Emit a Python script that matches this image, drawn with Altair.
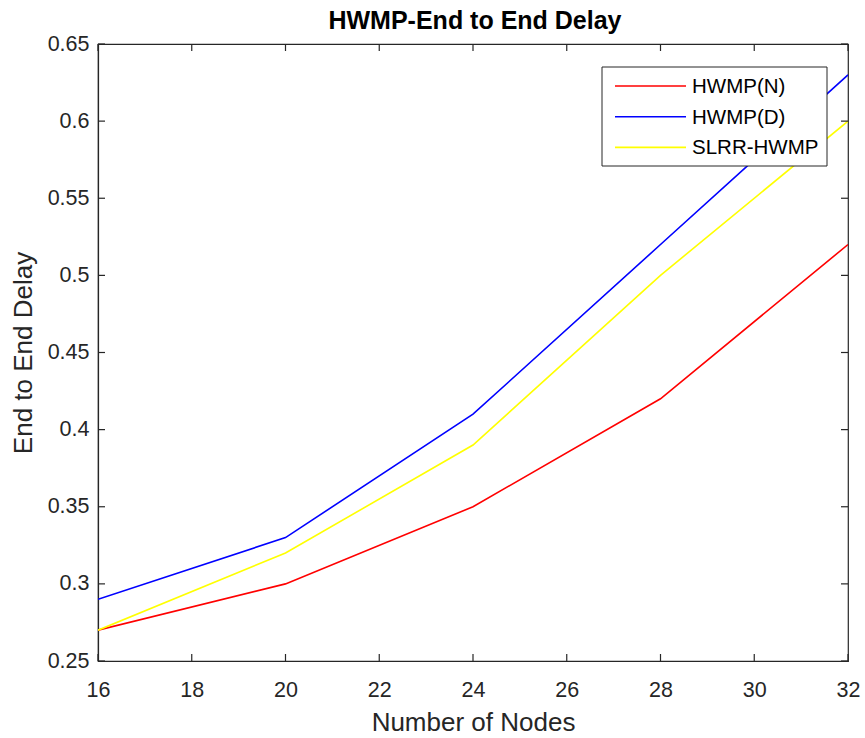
import altair as alt
import pandas as pd

nodes = [16, 20, 24, 28, 32]
hwmp_n = [0.27, 0.30, 0.35, 0.42, 0.52]
hwmp_d = [0.29, 0.33, 0.41, 0.52, 0.63]
slrr = [0.27, 0.32, 0.39, 0.50, 0.60]
series_names = ["HWMP(N)", "HWMP(D)", "SLRR-HWMP"]
series_colors = ["#FF0000", "#0000FF", "#FFFF00"]
x_ticks = [16, 18, 20, 22, 24, 26, 28, 30, 32]
y_ticks = [0.25, 0.3, 0.35, 0.4, 0.45, 0.5, 0.55, 0.6, 0.65]
chart_title = ["HWMP-End to End Delay"]

W, H = 750, 617
FONT = "Liberation Sans"
AX = "#262626"

rows = []
for name, vals in zip(series_names, [hwmp_n, hwmp_d, slrr]):
    for n, v in zip(nodes, vals):
        rows.append({"nodes": n, "delay": v, "series": name})
df = pd.DataFrame(rows)

xs = alt.Scale(domain=[16, 32], nice=False, zero=False)
ys = alt.Scale(domain=[0.25, 0.65], nice=False, zero=False)
x_axis = alt.Axis(values=x_ticks, title="Number of Nodes", format="~g",
                  labelPadding=18, titlePadding=9, labelFlush=False, labelOverlap=False)
y_axis = alt.Axis(values=y_ticks, title="End to End Delay", format="~g",
                  labelPadding=9, titlePadding=11, labelFlush=False, labelOverlap=False)

layers = []
for i, name in enumerate(series_names):
    sub = df[df.series == name]
    layers.append(alt.Chart(sub).mark_line(strokeWidth=1.6, clip=True).encode(
        x=alt.X("nodes:Q", scale=xs, axis=x_axis),
        y=alt.Y("delay:Q", scale=ys, axis=y_axis),
        color=alt.value(series_colors[i]),
    ))

xt = pd.DataFrame({"t": x_ticks})
yt = pd.DataFrame({"t": y_ticks})
tick_len = 7
layers.append(alt.Chart(xt).mark_rule(color=AX, strokeWidth=1.2).encode(
    x=alt.X("t:Q", scale=xs, axis=x_axis), y=alt.value(H), y2=alt.value(H - tick_len)))
layers.append(alt.Chart(xt).mark_rule(color=AX, strokeWidth=1.2).encode(
    x=alt.X("t:Q", scale=xs, axis=x_axis), y=alt.value(0), y2=alt.value(tick_len)))
layers.append(alt.Chart(yt).mark_rule(color=AX, strokeWidth=1.2).encode(
    y=alt.Y("t:Q", scale=ys, axis=y_axis), x=alt.value(0), x2=alt.value(tick_len)))
layers.append(alt.Chart(yt).mark_rule(color=AX, strokeWidth=1.2).encode(
    y=alt.Y("t:Q", scale=ys, axis=y_axis), x=alt.value(W), x2=alt.value(W - tick_len)))

# legend
box = pd.DataFrame({"k": [0]})
layers.append(alt.Chart(box).mark_rect(fill="white", stroke=AX, strokeWidth=1).encode(
    x=alt.value(504), x2=alt.value(729), y=alt.value(23), y2=alt.value(122)))
leg = pd.DataFrame({"series": series_names})
for i, name in enumerate(series_names):
    sub = leg[leg.series == name]
    yy = 42 + 30.7 * i
    layers.append(alt.Chart(sub).mark_rule(strokeWidth=1.6, color=series_colors[i]).encode(
        x=alt.value(517), x2=alt.value(588), y=alt.value(yy)))
    layers.append(alt.Chart(sub).mark_text(align="left", baseline="middle", font=FONT,
                                           fontSize=20.5, color="black").encode(
        x=alt.value(594), y=alt.value(yy + 1), text="series:N"))

# title
tdf = pd.DataFrame({"title": chart_title})
layers.append(alt.Chart(tdf).mark_text(align="center", baseline="alphabetic", font=FONT,
                                       fontSize=25, fontWeight="bold", color="black").encode(
    x=alt.value(W / 2 + 2), y=alt.value(-15), text="title:N"))

chart = alt.layer(*layers).properties(
    width=W, height=H,
    background="white",
    autosize=alt.AutoSizeParams(type="none"),
    padding={"left": 98, "top": 44, "right": 17, "bottom": 77},
).configure_view(stroke=AX, strokeWidth=1.2).configure_axis(
    ticks=False, grid=False, domainColor=AX, domainWidth=1.2,
    labelFont=FONT, labelFontSize=21.5, labelColor=AX,
    titleFont=FONT, titleFontSize=26, titleColor=AX, titleFontWeight="normal",
)

chart.save("out.html", embed_options={"renderer": "svg", "actions": False})
